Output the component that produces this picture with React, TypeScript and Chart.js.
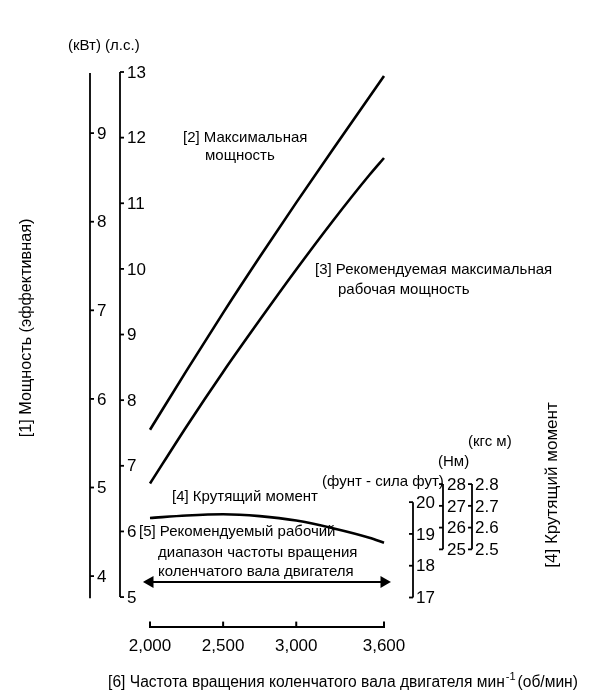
import React, { useEffect, useRef } from 'react';
import Chart from 'chart.js/auto';

// engine speed, rpm
const rpm = [2000, 2250, 2500, 2750, 3000, 3250, 3500, 3600];
// [2] max power, hp
const maxPowerHp = [7.55, 8.45, 9.33, 10.18, 11.01, 11.82, 12.62, 12.94];
// [3] recommended max operating power, hp
const recPowerHp = [6.73, 7.6, 8.43, 9.22, 9.99, 10.73, 11.43, 11.69];
// [4] torque, ft-lb
const torqueFtLb = [19.5, 19.58, 19.62, 19.56, 19.42, 19.18, 18.88, 18.72];
// [5] recommended operating range
const rangeRpm = [2000, 3600];
const rangeLevelHp = [5.23, 5.23];

const rpmTicks = [2000, 2500, 3000, 3600];
const rpmTickLabels = ['2,000', '2,500', '3,000', '3,600'];
const kwTicks = [4, 5, 6, 7, 8, 9];
const hpTicks = [5, 6, 7, 8, 9, 10, 11, 12, 13];
const ftLbTicks = [17, 18, 19, 20];
const nmTicks = [25, 26, 27, 28];
const kgfTicks = [2.5, 2.6, 2.7, 2.8];
const kgfTickLabels = ['2.5', '2.6', '2.7', '2.8'];

const FONT = '"Liberation Sans", Arial, sans-serif';

const overlayPlugin = {
  id: 'overlay',
  afterDraw(chart: any) {
    const { ctx, scales, chartArea } = chart;
    ctx.save();
    ctx.fillStyle = '#000';
    ctx.strokeStyle = '#000';
    ctx.textBaseline = 'middle';
    ctx.textAlign = 'left';

    // side axes: line, short ticks, labels on the right
    const axis = (id: string, x: number, ticks: number[], labels: string[], from: number, to: number, dir: number, gap: number) => {
      const s = scales[id];
      ctx.lineWidth = 1.8;
      ctx.beginPath();
      ctx.moveTo(x, s.getPixelForValue(from));
      ctx.lineTo(x, s.getPixelForValue(to));
      ctx.stroke();
      ctx.font = '17px ' + FONT;
      ticks.forEach((t, i) => {
        const y = s.getPixelForValue(t);
        ctx.beginPath();
        ctx.moveTo(x, y);
        ctx.lineTo(x + dir * 4, y);
        ctx.stroke();
        ctx.fillText(labels[i], x + gap, y + 1);
      });
    };
    axis('yKw', 90, kwTicks, kwTicks.map(String), 3.75, 9.68, 1, 7);
    axis('yHp', 120, hpTicks, hpTicks.map(String), 5, 13, 1, 7);
    axis('yFt', 413, ftLbTicks, ftLbTicks.map(String), 17, 20, -1, 3);
    axis('yNm', 443, nmTicks, nmTicks.map(String), 25, 28, -1, 4);
    axis('yKgf', 472, kgfTicks, kgfTickLabels, 2.5, 2.8, -1, 3);

    // x axis ticks pointing up
    ctx.lineWidth = 2;
    rpmTicks.forEach((v) => {
      const x = scales.x.getPixelForValue(v);
      ctx.beginPath();
      ctx.moveTo(x, chartArea.bottom);
      ctx.lineTo(x, chartArea.bottom - 5);
      ctx.stroke();
    });

    const f15 = '15px ' + FONT;
    ctx.font = f15;
    const t = (s: string, x: number, y: number) => ctx.fillText(s, x, y);
    t('(кВт) (л.с.)', 68, 46);
    t('[2] Максимальная', 183, 138);
    t('мощность', 205, 156);
    t('[3] Рекомендуемая максимальная', 315, 270);
    t('рабочая мощность', 338, 290);
    t('(фунт - сила фут)', 322, 482);
    t('[4] Крутящий момент', 172, 497);
    t('[5] Рекомендуемый рабочий', 139, 532);
    t('диапазон частоты вращения', 158, 553);
    t('коленчатого вала двигателя', 158, 572);
    t('(Нм)', 438, 462);
    t('(кгс м)', 468, 442);

    const rot = (s: string, x: number, y: number, size: number) => {
      ctx.save();
      ctx.font = size + 'px ' + FONT;
      ctx.translate(x, y);
      ctx.rotate(-Math.PI / 2);
      ctx.textAlign = 'center';
      ctx.fillText(s, 0, 0);
      ctx.restore();
    };
    rot('[1] Мощность (эффективная)', 27, 328, 16.2);
    rot('[4] Крутящий момент', 552, 485, 17);

    // x axis title with superscript
    const fT = '15.6px ' + FONT;
    const fS = '11px ' + FONT;
    const a = '[6] Частота вращения коленчатого вала двигателя мин';
    const c = '(об/мин)';
    ctx.font = fT;
    const wa = ctx.measureText(a).width;
    const wc = ctx.measureText(c).width;
    ctx.font = fS;
    const ws = ctx.measureText('-1').width;
    const total = wa + ws + 3 + wc;
    const x0 = 343 - total / 2;
    ctx.font = fT;
    ctx.fillText(a, x0, 683);
    ctx.font = fS;
    ctx.fillText('-1', x0 + wa + 1, 677);
    ctx.font = fT;
    ctx.fillText(c, x0 + wa + ws + 3, 683);
    ctx.restore();
  },
};

const hidden = (min: number, max: number) => ({ type: 'linear' as const, display: false, min, max });

const App: React.FC = () => {
  const canvasRef = useRef<HTMLCanvasElement>(null);
  const chartRef = useRef<Chart | null>(null);

  useEffect(() => {
    if (!canvasRef.current) return;
    if (chartRef.current) chartRef.current.destroy();
    const ctx = canvasRef.current.getContext('2d');
    if (!ctx) return;

    const line = (values: number[], axisId: string) => ({
      data: rpm.map((r, i) => ({ x: r, y: values[i] })),
      yAxisID: axisId,
      borderColor: '#000',
      borderWidth: 2.6,
      pointRadius: 0,
      cubicInterpolationMode: 'monotone' as const,
      clip: false as const,
    });

    chartRef.current = new Chart(ctx, {
      type: 'line',
      data: {
        datasets: [
          line(maxPowerHp, 'yHp'),
          line(recPowerHp, 'yHp'),
          line(torqueFtLb, 'yFt'),
          {
            data: rangeRpm.map((r, i) => ({ x: r, y: rangeLevelHp[i] })),
            yAxisID: 'yHp',
            borderColor: '#000',
            backgroundColor: '#000',
            borderWidth: 2,
            pointStyle: 'triangle',
            pointRadius: 5,
            pointRotation: [-90, 90],
            clip: false,
          } as any,
        ],
      },
      options: {
        animation: false,
        responsive: true,
        maintainAspectRatio: false,
        layout: { padding: { left: 150, right: 216, top: 72, bottom: 33 } },
        plugins: { legend: { display: false }, tooltip: { enabled: false }, title: { display: false } },
        scales: {
          x: {
            type: 'linear',
            min: 2000,
            max: 3600,
            afterBuildTicks: (s: any) => {
              s.ticks = rpmTicks.map((v) => ({ value: v }));
            },
            ticks: {
              callback: (v: any) => rpmTickLabels[rpmTicks.indexOf(Number(v))] ?? '',
              color: '#000',
              font: { size: 17, family: FONT },
              padding: 10,
              maxRotation: 0,
            },
            grid: { display: false, drawTicks: false },
            border: { display: true, color: '#000', width: 2 },
          },
          yHp: { ...hidden(4.55, 13), position: 'left' },
          yKw: { ...hidden(3.43, 9.69), position: 'left' },
          yFt: { ...hidden(16.085, 33.53), position: 'right' },
          yNm: { ...hidden(21.45, 46.94), position: 'right' },
          yKgf: { ...hidden(2.145, 4.694), position: 'right' },
        },
      },
      plugins: [overlayPlugin],
    });

    return () => {
      if (chartRef.current) {
        chartRef.current.destroy();
        chartRef.current = null;
      }
    };
  }, []);

  return (
    <div style={{ position: 'fixed', left: 0, top: 0, width: 600, height: 700, background: '#fff' }}>
      <canvas ref={canvasRef}></canvas>
    </div>
  );
};

export default App;
